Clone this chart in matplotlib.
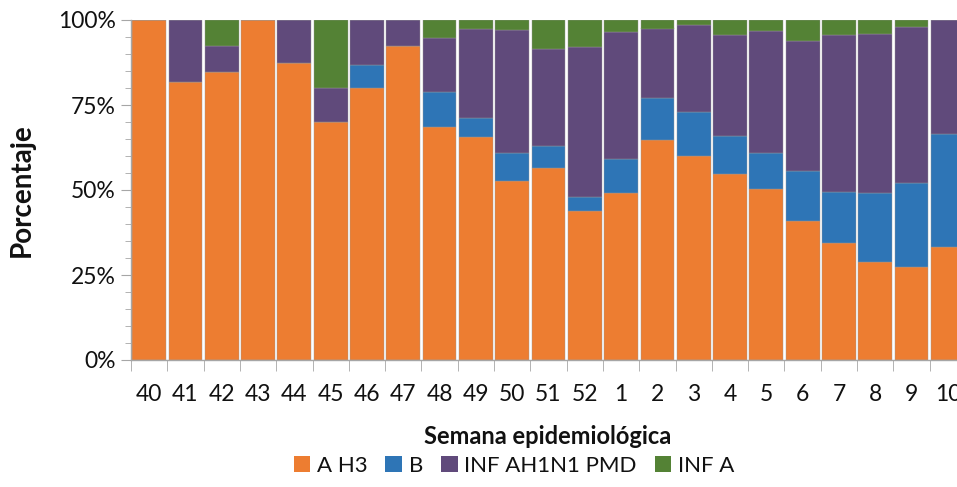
import matplotlib

matplotlib.use("Agg")

import matplotlib.pyplot as plt
import numpy as np
from matplotlib.patches import Patch
from matplotlib.ticker import FixedLocator, PercentFormatter

plt.rcParams["font.family"] = ["Lato", "DejaVu Sans"]

weeks = ["40", "41", "42", "43", "44", "45", "46", "47", "48", "49", "50", "51",
         "52", "1", "2", "3", "4", "5", "6", "7", "8", "9", "10"]

a_h3 = [100, 81.9, 84.6, 100, 87.5, 70.0, 80.0, 92.3, 68.4, 65.7, 52.6, 56.4,
        43.8, 49.0, 64.7, 60.1, 54.8, 50.3, 41.0, 34.5, 28.7, 27.3, 33.3]
flu_b = [0, 0, 0, 0, 0, 0, 6.7, 0, 10.5, 5.4, 8.4, 6.5,
         4.0, 10.0, 12.3, 12.7, 11.1, 10.6, 14.6, 14.8, 20.4, 24.8, 33.3]
ah1n1 = [0, 18.1, 7.7, 0, 12.5, 10.0, 13.3, 7.7, 15.8, 26.3, 36.2, 28.5,
         44.2, 37.4, 20.5, 25.6, 29.6, 36.0, 38.1, 46.3, 46.7, 45.7, 33.4]
inf_a = [0, 0, 7.7, 0, 0, 20.0, 0, 0, 5.3, 2.6, 2.8, 8.6,
         8.0, 3.6, 2.5, 1.6, 4.5, 3.1, 6.3, 4.4, 4.2, 2.2, 0]

series = [
    ("A H3", a_h3, "#ED7D31"),
    ("B", flu_b, "#2E75B6"),
    ("INF AH1N1 PMD", ah1n1, "#604A7B"),
    ("INF A", inf_a, "#548235"),
]

fig = plt.figure(figsize=(9.57, 4.87), dpi=100)
# the plot area runs past the right edge, as in the original (week 10 is cut)
ax = fig.add_axes([131 / 957, 1 - 360 / 487, 835 / 957, 340 / 487])

x = np.arange(len(weeks))
bottom = np.zeros(len(weeks))
for name, values, color in series:
    vals = np.array(values, dtype=float)
    ax.bar(x, vals, bottom=bottom, width=0.93, color=color,
           edgecolor="#9a9a9a", linewidth=0.3)
    bottom += vals

ax.set_xlim(-0.5, len(weeks) - 0.5)
ax.set_ylim(0, 100)

for side in ["top", "right"]:
    ax.spines[side].set_visible(False)
for side in ["left", "bottom"]:
    ax.spines[side].set_color("#a6a6a6")
    ax.spines[side].set_linewidth(1.0)

ax.set_yticks([0, 25, 50, 75, 100])
ax.yaxis.set_minor_locator(FixedLocator(np.arange(0, 101, 5)))
ax.yaxis.set_major_formatter(PercentFormatter(decimals=0))
ax.tick_params(axis="y", which="major", length=7, color="#a6a6a6",
               labelsize=16.5, labelcolor="#111111", pad=4)
ax.tick_params(axis="y", which="minor", length=4, color="#a6a6a6")

ax.set_xticks(x)
ax.set_xticklabels(weeks)
ax.xaxis.set_minor_locator(FixedLocator(np.arange(-0.5, len(weeks), 1)))
ax.tick_params(axis="x", which="major", length=0, labelsize=16.5,
               labelcolor="#111111", pad=17)
ax.tick_params(axis="x", which="minor", length=8, color="#a6a6a6")

fig.text(548 / 957, 1 - 437 / 487, "Semana epidemiológica", ha="center",
         va="center", fontsize=17, fontweight="bold", color="#111111")
fig.text(22 / 957, 1 - 190 / 487, "Porcentaje", ha="center", va="center",
         rotation=90, fontsize=20, fontweight="bold", color="#111111")

handles = [Patch(facecolor=c, edgecolor="none") for _, _, c in series]
fig.legend(handles, [n for n, _, _ in series], loc="center",
           bbox_to_anchor=(514 / 957, 1 - 466 / 487), ncol=4, frameon=False,
           fontsize=16, handlelength=0.75, handleheight=0.75,
           handletextpad=0.3, columnspacing=0.8, labelcolor="#111111")

fig.savefig("out.png", dpi=100, facecolor="white")
